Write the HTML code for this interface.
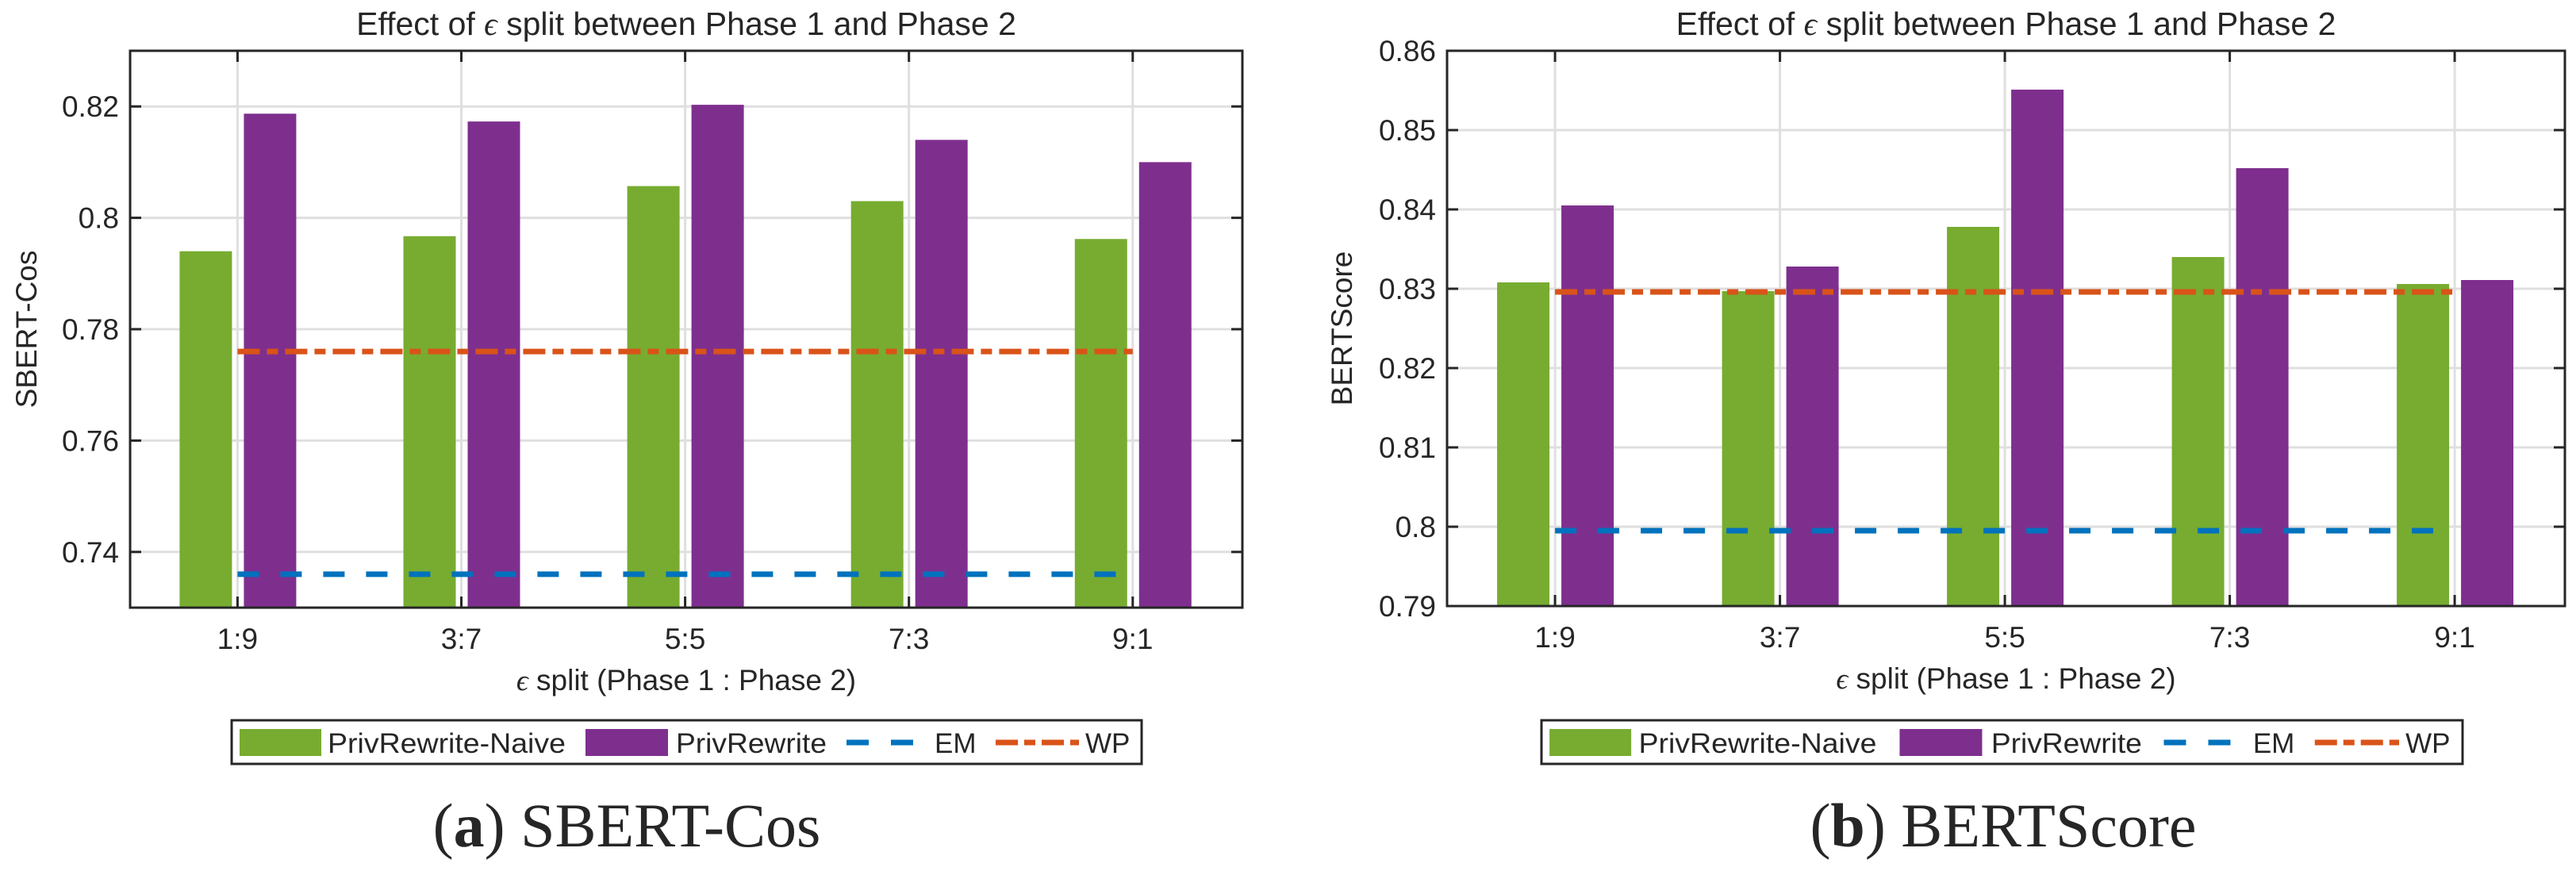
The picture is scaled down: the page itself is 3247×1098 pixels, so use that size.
<!DOCTYPE html>
<html><head><meta charset="utf-8"><style>
html,body{margin:0;padding:0;background:#fff}
svg{display:block}
text{font-family:"Liberation Sans",sans-serif;fill:#262626}
</style></head><body>
<svg id="fig" width="3247" height="1098" viewBox="0 0 3247 1098" xmlns="http://www.w3.org/2000/svg"></svg>
<script>
const categories = ["1:9","3:7","5:5","7:3","9:1"];
const sbertNaive = [0.794,0.7967,0.8057,0.803,0.7962];
const sbertPriv = [0.8187,0.8173,0.8203,0.814,0.810];
const sbertEM = 0.736;
const sbertWP = 0.776;
const sbertTicks = [0.74,0.76,0.78,0.80,0.82];
const sbertTickLabels = ["0.74","0.76","0.78","0.8","0.82"];
const bertNaive = [0.8308,0.8297,0.8378,0.834,0.8306];
const bertPriv = [0.8405,0.8328,0.8551,0.8452,0.8311];
const bertEM = 0.7995;
const bertWP = 0.8296;
const bertTicks = [0.79,0.80,0.81,0.82,0.83,0.84,0.85,0.86];
const bertTickLabels = ["0.79","0.8","0.81","0.82","0.83","0.84","0.85","0.86"];

const NS="http://www.w3.org/2000/svg";
const svg=document.getElementById('fig');
function mk(tag,attrs,parent,txt){const e=document.createElementNS(NS,tag);for(const k in attrs)e.setAttribute(k,attrs[k]);if(txt!==undefined)e.textContent=txt;(parent||svg).appendChild(e);return e;}

function chart(cfg){
  const g=mk('g',{});
  
  
  const L=cfg.left,R=cfg.right,T=cfg.top,B=cfg.bottom;
  const xs=i=>L+(i+1-0.52)/(5.49-0.52)*(R-L);
  const ys=v=>B-(v-cfg.ymin)/(cfg.ymax-cfg.ymin)*(B-T);
  // grid
  cfg.ticks.forEach((t,i)=>{
    const y=ys(t);
    const gl=mk('line',{x1:L,x2:R,y1:y,y2:y,stroke:'#dfdfdf','stroke-width':3},g);
    
    
    mk('line',{x1:L,x2:L+14,y1:y,y2:y,stroke:'#262626','stroke-width':3},g);
    mk('line',{x1:R-14,x2:R,y1:y,y2:y,stroke:'#262626','stroke-width':3},g);
    const tl=mk('text',{x:L-14,y:y+13,'font-size':37,'text-anchor':'end'},g,cfg.tickLabels[i]);
    
    
  });
  categories.forEach((c,i)=>{
    const x=xs(i);
    const vl=mk('line',{x1:x,x2:x,y1:T,y2:B,stroke:'#dfdfdf','stroke-width':3},g);
    
    
  });
  // bars
  const bw=66;
  categories.forEach((c,i)=>{
    const x=xs(i);
    const yn=ys(cfg.naive[i]);
    const b1=mk('rect',{x:x-40-bw/2,y:yn,width:bw,height:B-yn,fill:'#77ac30'},g);
    
    
    const yp=ys(cfg.priv[i]);
    const b2=mk('rect',{x:x+41-bw/2,y:yp,width:bw,height:B-yp,fill:'#7e2f8e'},g);
    
    
  });
  categories.forEach((c,i)=>{
    const x=xs(i);
    mk('line',{x1:x,x2:x,y1:T,y2:T+14,stroke:'#262626','stroke-width':3},g);
    mk('line',{x1:x,x2:x,y1:B-14,y2:B,stroke:'#262626','stroke-width':3},g);
    const xl=mk('text',{x:x,y:B+52,'font-size':37,'text-anchor':'middle'},g,c);
    
    
  });
  // lines
  const em=mk('line',{x1:xs(0),x2:xs(4),y1:ys(cfg.em),y2:ys(cfg.em),stroke:'#0072bd','stroke-width':7,'stroke-dasharray':'27 27'},g);
  
  
  const wp=mk('line',{x1:xs(0),x2:xs(4),y1:ys(cfg.wp),y2:ys(cfg.wp),stroke:'#d95319','stroke-width':7,'stroke-dasharray':'28 9 14 9'},g);
  
  
  // axes box
  const bx=mk('rect',{x:L,y:T,width:R-L,height:B-T,fill:'none',stroke:'#262626','stroke-width':3},g);
  
  
  const cx=(L+R)/2;
  const ti=mk('text',{x:cx,y:44,'font-size':41,'text-anchor':'middle'},g);
  
  
  ti.innerHTML='Effect of <tspan font-family="Liberation Serif" font-style="italic">ϵ</tspan> split between Phase 1 and Phase 2';
  const xt=mk('text',{x:cx,y:B+104,'font-size':37,'text-anchor':'middle'},g);
  
  
  xt.innerHTML='<tspan font-family="Liberation Serif" font-style="italic">ϵ</tspan> split (Phase 1 : Phase 2)';
  const yt=mk('text',{x:0,y:0,'font-size':37,'text-anchor':'middle',transform:`translate(${cfg.ylabX},${(T+B)/2}) rotate(-90)`},g,cfg.ylabel);
  
  
  // legend
  const lg=mk('g',{transform:`translate(${cfg.legX},0)`},g);
  
  
  mk('rect',{x:0,y:908,width:cfg.legW,height:55,fill:'#fff',stroke:'#262626','stroke-width':3},lg);
  const s=cfg.legW/1147;
  const e1=mk('g',{},lg);
  
  
  mk('rect',{x:10*s,y:919,width:103,height:34,fill:'#77ac30'},e1);
  mk('text',{x:121*s,y:949,'font-size':35,textLength:300,lengthAdjust:'spacingAndGlyphs'},e1,'PrivRewrite-Naive');
  const e2=mk('g',{},lg);
  
  
  mk('rect',{x:446*s,y:919,width:104,height:34,fill:'#7e2f8e'},e2);
  mk('text',{x:560*s,y:949,'font-size':35,textLength:190,lengthAdjust:'spacingAndGlyphs'},e2,'PrivRewrite');
  const e3=mk('g',{},lg);
  
  
  mk('line',{x1:775*s,x2:860*s,y1:936,y2:936,stroke:'#0072bd','stroke-width':7,'stroke-dasharray':'28 28'},e3);
  mk('text',{x:886*s,y:949,'font-size':35},e3,'EM');
  const e4=mk('g',{},lg);
  
  
  mk('line',{x1:963*s,x2:1068*s,y1:936,y2:936,stroke:'#d95319','stroke-width':7,'stroke-dasharray':'28 8 14 8'},e4);
  mk('text',{x:1076*s,y:949,'font-size':35},e4,'WP');
  // caption
  const cap=mk('text',{x:cfg.capX,y:1067,'font-size':78,'text-anchor':'middle','font-family':'Liberation Serif'},g);
  
  
  cap.style.fontFamily='"Liberation Serif",serif';
  cap.innerHTML='(<tspan font-weight="bold">'+cfg.capLetter+'</tspan>) '+cfg.capText;
}

chart({name:'sbert-chart',left:164,right:1566,top:64,bottom:766,ymin:0.73,ymax:0.83,
  ticks:sbertTicks,tickLabels:sbertTickLabels,naive:sbertNaive,priv:sbertPriv,em:sbertEM,wp:sbertWP,
  ylabel:'SBERT-Cos',ylabX:46,legX:292,legW:1147,capX:790,capLetter:'a',capText:'SBERT-Cos'});
chart({name:'bertscore-chart',left:1824,right:3233,top:64,bottom:764,ymin:0.79,ymax:0.86,
  ticks:bertTicks,tickLabels:bertTickLabels,naive:bertNaive,priv:bertPriv,em:bertEM,wp:bertWP,
  ylabel:'BERTScore',ylabX:1704,legX:1943,legW:1161,capX:2525,capLetter:'b',capText:'BERTScore'});
</script>
</body></html>
